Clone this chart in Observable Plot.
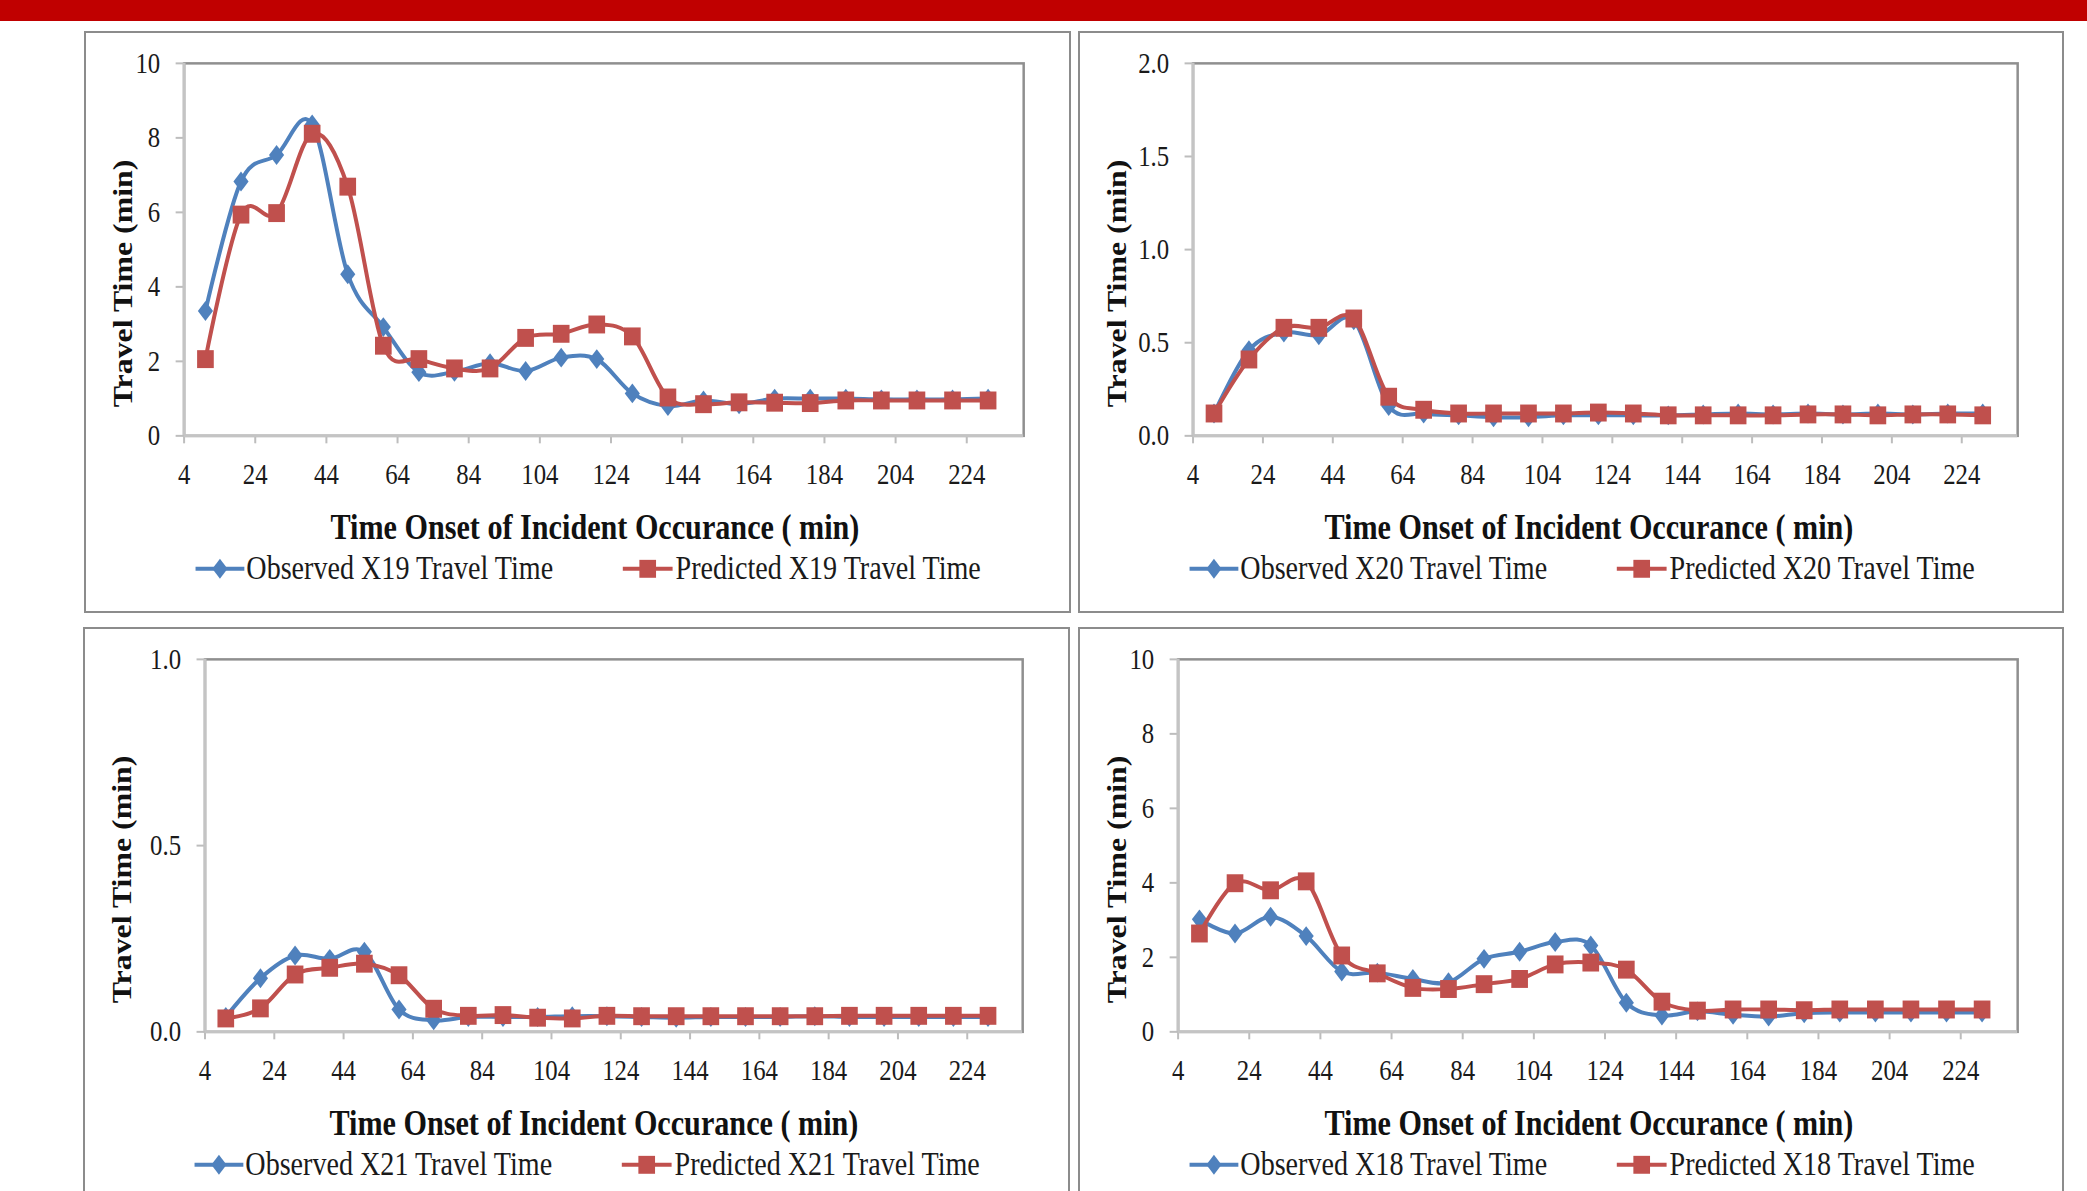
<!DOCTYPE html>
<html>
<head>
<meta charset="utf-8">
<script src="https://cdn.jsdelivr.net/npm/d3@7"></script>
<script src="https://cdn.jsdelivr.net/npm/@observablehq/plot@0.6"></script>
<style>
  html, body { margin: 0; padding: 0; width: 2087px; height: 1191px; overflow: hidden; background: #fff; }
  #topbar { position: absolute; left: 0; top: 0; width: 2087px; height: 21px; background: #C00000; }
  .panel { position: absolute; box-sizing: border-box; border: 2px solid #8c8c8c; background: #fff; }
  .panel svg { position: absolute; left: -2px; top: -2px; overflow: visible; }
</style>
</head>
<body>
<div id="topbar"></div>
<div id="root"></div>
<script>
// ---- data ----
const minutes = [10, 20, 30, 40, 50, 60, 70, 80, 90, 100, 110, 120, 130, 140, 150, 160, 170, 180, 190, 200, 210, 220, 230];
const xTicks = [4, 24, 44, 64, 84, 104, 124, 144, 164, 184, 204, 224];

const obsX19  = [3.35, 6.83, 7.54, 8.36, 4.34, 2.92, 1.71, 1.72, 1.95, 1.74, 2.1, 2.06, 1.14, 0.8, 0.95, 0.85, 1.0, 1.0, 1.0, 0.98, 0.98, 0.98, 1.0];
const predX19 = [2.06, 5.94, 5.98, 8.11, 6.69, 2.42, 2.06, 1.81, 1.81, 2.63, 2.74, 2.99, 2.67, 1.03, 0.85, 0.9, 0.89, 0.88, 0.95, 0.95, 0.95, 0.95, 0.95];

const obsX20  = [0.12, 0.46, 0.555, 0.54, 0.62, 0.16, 0.12, 0.11, 0.10, 0.10, 0.11, 0.11, 0.11, 0.11, 0.115, 0.12, 0.115, 0.12, 0.115, 0.12, 0.115, 0.12, 0.12];
const predX20 = [0.12, 0.41, 0.58, 0.58, 0.63, 0.21, 0.14, 0.12, 0.12, 0.12, 0.12, 0.125, 0.12, 0.11, 0.11, 0.11, 0.11, 0.115, 0.115, 0.11, 0.115, 0.115, 0.11];

const obsX21  = [0.04, 0.144, 0.205, 0.196, 0.215, 0.06, 0.031, 0.04, 0.04, 0.04, 0.042, 0.042, 0.04, 0.038, 0.04, 0.04, 0.04, 0.042, 0.04, 0.04, 0.04, 0.04, 0.04];
const predX21 = [0.036, 0.063, 0.154, 0.172, 0.183, 0.152, 0.062, 0.043, 0.045, 0.038, 0.036, 0.043, 0.042, 0.042, 0.042, 0.042, 0.042, 0.042, 0.043, 0.043, 0.043, 0.043, 0.043];

const obsX18  = [3.02, 2.64, 3.09, 2.57, 1.62, 1.59, 1.42, 1.33, 1.96, 2.15, 2.41, 2.32, 0.78, 0.44, 0.55, 0.46, 0.41, 0.5, 0.52, 0.52, 0.52, 0.52, 0.52];
const predX18 = [2.64, 3.99, 3.8, 4.04, 2.05, 1.57, 1.18, 1.15, 1.28, 1.42, 1.81, 1.86, 1.67, 0.81, 0.57, 0.6, 0.6, 0.58, 0.6, 0.6, 0.6, 0.6, 0.6];

const ticksTen = [0, 2, 4, 6, 8, 10];
const ticksTwo = [0, 0.5, 1.0, 1.5, 2.0];
const ticksOne = [0, 0.5, 1.0];

const xTitle = "Time Onset of Incident Occurance ( min)";
const yTitle = "Travel Time (min)";

// ---- styling / layout ----
const BLUE = "#4F81BD", RED = "#C0504D";
const SQX = 0.83; // horizontal squeeze of the reference lettering

const diamondSym = {draw(ctx, size) { const r = Math.sqrt(size / Math.PI); const w = r * 0.76;
  ctx.moveTo(0, -r); ctx.lineTo(w, 0); ctx.lineTo(0, r); ctx.lineTo(-w, 0); ctx.closePath(); }};
const squareSym = {draw(ctx, size) { const r = Math.sqrt(size / Math.PI); const w = r * 0.93;
  ctx.rect(-w, -r, 2 * w, 2 * r); }};

const panels = [
  {left: 84,   top: 31,  width: 987, height: 582, marginLeft: 100, ymax: 10, yTicks: ticksTen, fmt: "d",   obs: obsX19, pred: predX19, name: "X19"},
  {left: 1078, top: 31,  width: 986, height: 582, marginLeft: 115, ymax: 2,  yTicks: ticksTwo, fmt: ".1f", obs: obsX20, pred: predX20, name: "X20"},
  {left: 83,   top: 627, width: 987, height: 582, marginLeft: 122, ymax: 1,  yTicks: ticksOne, fmt: ".1f", obs: obsX21, pred: predX21, name: "X21"},
  {left: 1078, top: 627, width: 986, height: 582, marginLeft: 100, ymax: 10, yTicks: ticksTen, fmt: "d",   obs: obsX18, pred: predX18, name: "X18"}
];

const root = document.getElementById("root");

for (const p of panels) {
  const obs = minutes.map((m, i) => ({m, v: p.obs[i]}));
  const pred = minutes.map((m, i) => ({m, v: p.pred[i]}));
  const marginTop = 32, marginRight = p.width - 943, marginBottom = p.height - 406;

  const chart = Plot.plot({
    width: p.width, height: p.height,
    marginLeft: p.marginLeft, marginRight, marginTop, marginBottom,
    style: {fontFamily: "'Liberation Serif', 'Times New Roman', serif", fontSize: "30px", background: "transparent", color: "#222"},
    x: {domain: [4, 240]},
    y: {domain: [0, p.ymax]},
    marks: [
      Plot.frame({stroke: "#8f8f8f", strokeWidth: 2.5}),
      Plot.axisX({ticks: xTicks, tickSize: 8, tickPadding: 19, stroke: "#bdbdbd", strokeWidth: 2, fill: "#1a1a1a", fontSize: 30, label: null}),
      Plot.axisY({ticks: p.yTicks, tickSize: 8, tickPadding: 16, tickFormat: d3.format(p.fmt), stroke: "#bdbdbd", strokeWidth: 2, fill: "#1a1a1a", fontSize: 30, label: null}),
      Plot.ruleX([4], {stroke: "#c4c4c4", strokeWidth: 3}),
      Plot.ruleY([0], {stroke: "#c4c4c4", strokeWidth: 3}),
      Plot.line(obs, {x: "m", y: "v", stroke: BLUE, strokeWidth: 4, curve: "cardinal"}),
      Plot.dot(obs, {x: "m", y: "v", symbol: diamondSym, r: 10, fill: BLUE, stroke: "none"}),
      Plot.line(pred, {x: "m", y: "v", stroke: RED, strokeWidth: 4, curve: "cardinal"}),
      Plot.dot(pred, {x: "m", y: "v", symbol: squareSym, r: 9, fill: RED, stroke: "none"}),
      Plot.text([xTitle], {frameAnchor: "bottom-left", dx: 512.5 - p.marginLeft, dy: 92, textAnchor: "middle", lineAnchor: "middle", fontWeight: "bold", fontSize: 36.5, fill: "#111"}),
      Plot.text([yTitle], {frameAnchor: "left", dx: 39 - p.marginLeft, dy: 34, rotate: -90, textAnchor: "middle", lineAnchor: "middle", fontWeight: "bold", fontSize: 32, fill: "#111"})
    ]
  });

  // legend
  const svg = d3.select(chart);
  const leg = svg.append("g").attr("font-family", "'Liberation Serif', 'Times New Roman', serif").attr("font-size", 34).attr("fill", "#1a1a1a").attr("text-anchor", "start");
  const items = [
    {x0: 112, x1: 161, tx: 163, color: BLUE, sym: diamondSym, r: 10, label: `Observed ${p.name} Travel Time`},
    {x0: 541, x1: 591, tx: 594, color: RED, sym: squareSym, r: 9, label: `Predicted ${p.name} Travel Time`}
  ];
  for (const it of items) {
    leg.append("line").attr("x1", it.x0).attr("x2", it.x1).attr("y1", 540).attr("y2", 540).attr("stroke", it.color).attr("stroke-width", 4);
    leg.append("path").attr("transform", `translate(${(it.x0 + it.x1) / 2},540)`).attr("d", d3.symbol(it.sym, Math.PI * it.r * it.r)()).attr("fill", it.color);
    leg.append("text").attr("text-anchor", "start").attr("transform", `translate(${it.tx},550)`).text(it.label);
  }

  // reproduce the horizontally squeezed lettering of the reference
  chart.querySelectorAll("text").forEach(t => {
    const tr = t.getAttribute("transform") || "";
    t.setAttribute("transform", tr + (tr.includes("rotate") ? ` scale(1,${SQX})` : ` scale(${SQX},1)`));
  });

  const div = document.createElement("div");
  div.className = "panel";
  Object.assign(div.style, {left: p.left + "px", top: p.top + "px", width: p.width + "px", height: p.height + "px"});
  div.appendChild(chart);
  root.appendChild(div);
}
</script>
</body>
</html>
